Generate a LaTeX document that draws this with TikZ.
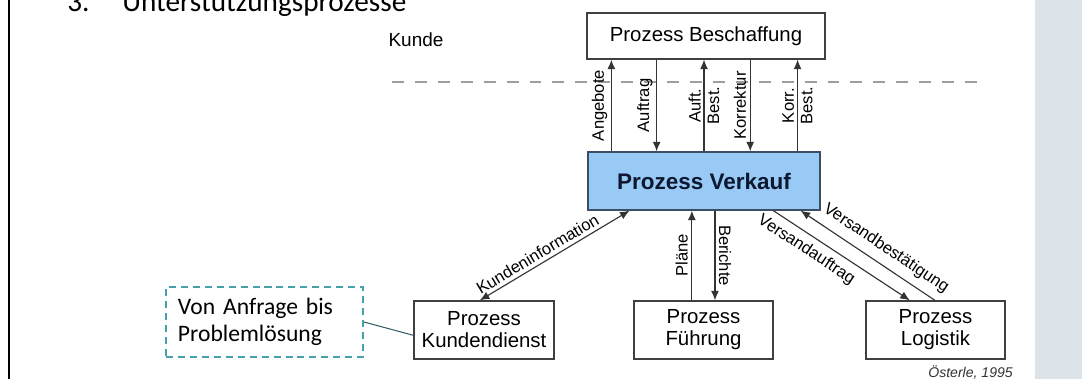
\documentclass[tikz,border=0pt]{standalone}
\usepackage{fontspec}
\setmainfont{Liberation Sans}
\newfontfamily\calfont{Carlito}
\usepackage{xcolor}
\usetikzlibrary{arrows.meta,positioning,calc}
\definecolor{vkfill}{RGB}{153,201,245}
\definecolor{vkline}{RGB}{60,78,100}
\definecolor{vktext}{RGB}{12,24,48}
\definecolor{notecol}{RGB}{72,160,170}
\definecolor{panelcol}{RGB}{221,228,233}

\begin{document}
\begin{tikzpicture}[x=0.025cm, y=-0.025cm, every node/.style={font=\fontsize{11.8}{13}\selectfont},
  box/.style={draw=black!75,line width=0.9pt,align=center,inner sep=2pt,minimum height=1.45cm,font=\fontsize{14.5}{15.6}\selectfont},
  note/.style={draw=notecol,line width=1.4pt,dash pattern=on 5pt off 3.5pt,align=left,inner xsep=0.3cm,
    font=\calfont\fontsize{16.8}{19.2}\selectfont},
  lbl/.style={inner sep=2.5pt,align=center,font=\fontsize{11.8}{13.2}\selectfont},
  arr/.style={draw=black!80,line width=0.8pt,-{Latex[length=2.4mm,width=2mm]}},
  rarr/.style={draw=black!80,line width=0.8pt,{Latex[length=2.4mm,width=2mm]}-},
  darr/.style={draw=black!80,line width=0.8pt,{Latex[length=2.4mm,width=2mm]}-{Latex[length=2.4mm,width=2mm]}}]
\useasboundingbox (0,0) rectangle (1082,379);
\fill[panelcol] (1035,0) rectangle (1082,379);
\fill[black] (7.5,0) rectangle (10,379);
\node[anchor=base west,inner sep=0,font=\calfont\fontsize{20.8}{24}\selectfont] (num) at (67,12) {3.};
\node[anchor=base west,inner sep=0,font=\calfont\fontsize{20.8}{24}\selectfont] (title) at (122,12) {Unterstützungsprozesse};

% Kunde / Beschaffung
\node[font=\fontsize{13.5}{15}\selectfont] (kunde) at (416,40) {Kunde};
\node[box,minimum width=5.95cm,minimum height=1.15cm] (bs) at (706,36) {Prozess Beschaffung};
\draw[black!38,line width=1.4pt,dash pattern=on 8.5pt off 7.8pt] (392,82) -- (982,82);

\node[box,fill=vkfill,draw=vkline,minimum width=5.8cm,text=vktext,font=\bfseries\fontsize{16}{18}\selectfont] (vk) at (704,181) {Prozess Verkauf};

% untere Prozesse
\node[box,minimum width=3.5cm] (kd) at (484,330) {Prozess\\Kundendienst};
\node[box,minimum width=3.475cm] (fu) at (703.5,330) {Prozess\\Führung};
\node[box,minimum width=3.475cm] (lo) at (935.5,330) {Prozess\\Logistik};
\node[note,text width=4.325cm,minimum height=1.75cm] (note) at (264.5,322) {Von Anfrage bis\\Problemlösung};
\draw[black!45!notecol,line width=0.7pt] (note.east) -- ($(kd.south west)!0.41!(kd.north west)$);

% Verkauf <-> Beschaffung
\draw[arr] ($(vk.north west)!0.103!(vk.north east)$) coordinate (a1) -- (a1 |- bs.south)
  node[midway,rotate=90,anchor=south,lbl] {Angebote};
\draw[rarr] ($(vk.north west)!0.297!(vk.north east)$) coordinate (a2) -- (a2 |- bs.south)
  node[midway,rotate=90,anchor=south,lbl] {Auftrag};
\draw[arr] ($(vk.north west)!0.5!(vk.north east)$) coordinate (a3) -- (a3 |- bs.south)
  node[midway,rotate=90,lbl] {Auft.\\Best.};
\draw[rarr] ($(vk.north west)!0.698!(vk.north east)$) coordinate (a4) -- (a4 |- bs.south)
  node[midway,rotate=90,anchor=south,lbl] {Korrektur};
\draw[arr] ($(vk.north west)!0.901!(vk.north east)$) coordinate (a5) -- (a5 |- bs.south)
  node[midway,rotate=90,lbl] {Korr.\\Best.};

% Verkauf <-> untere Prozesse
\draw[darr] ($(kd.north west)!0.47!(kd.north east)$) -- ($(vk.south west)!0.181!(vk.south east)$)
  node[pos=0.42,above,sloped,lbl] {Kundeninformation};
\draw[arr] ($(fu.north west)!0.417!(fu.north east)$) coordinate (p1) -- (p1 |- vk.south)
  node[midway,rotate=90,anchor=south,lbl] {Pläne};
\draw[arr] ($(vk.south west)!0.547!(vk.south east)$) coordinate (b1) -- (b1 |- fu.north)
  node[midway,rotate=-90,anchor=south,lbl] {Berichte};
\draw[arr] ($(vk.south west)!0.797!(vk.south east)$) -- ($(lo.north west)!0.317!(lo.north east)$)
  node[pos=0.3,below,sloped,lbl,yshift=-2pt] {Versandauftrag};
\draw[rarr] ($(vk.south west)!0.914!(vk.south east)$) -- ($(lo.north west)!0.496!(lo.north east)$)
  node[pos=0.57,above,sloped,lbl,yshift=3pt] {Versandbestätigung};

\node[anchor=base east,inner sep=0,text=black!80,font=\itshape\fontsize{10}{11}\selectfont] (src) at (1013,377) {Österle, 1995};
\end{tikzpicture}
\end{document}
